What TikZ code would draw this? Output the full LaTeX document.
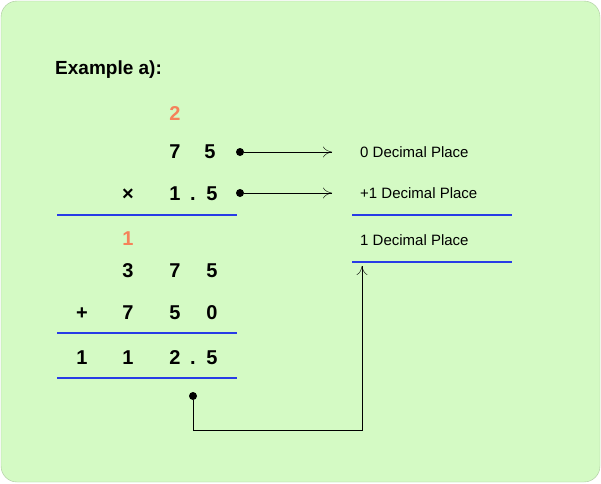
\documentclass[tikz,border=0pt]{standalone}
\usepackage{fontspec}
\setmainfont{Liberation Sans}
\usetikzlibrary{positioning, arrows.meta}
\definecolor{bggreen}{RGB}{212,250,196}
\definecolor{myblue}{RGB}{40,60,230}
\definecolor{myorange}{RGB}{245,130,90}
\tikzset{
  digit/.style={font=\bfseries\fontsize{20}{24}\selectfont, inner sep=0, anchor=base, yshift=-7.5},
  carry/.style={digit, text=myorange},
  label/.style={font=\fontsize{15}{18}\selectfont, anchor=west, inner sep=0},
  sumline/.style={myblue, line width=1.4},
  dot/.style={circle, fill=black, inner sep=0, minimum size=8}
}

\begin{document}
\begin{tikzpicture}[x=1pt,y=-1pt,>={To[length=9pt,width=11pt]}]
\useasboundingbox (0,0) rectangle (601,483);
\draw[fill=bggreen, draw=bggreen!80!black, rounded corners=16, line width=0.4] (1,1) rectangle (600,482);

\node [font=\bfseries\fontsize{19}{22}\selectfont, anchor=west, inner sep=0] (title) at (55,70) {Example a):};

% multiplication
\node [carry] (c2) at (175,113) {2};
\node [digit] (a7) at (175,151) {7};
\node [digit] (a5) at (210,151) {5};
\node [digit] (times) at (128,193) {×};
\node [digit] (b1) at (175,193) {1};
\node [digit] (bdot) at (193,193) {.};
\node [digit] (b5) at (212,193) {5};
\coordinate (l1a) at (57,215); \coordinate (l1b) at (237,215);
\draw[sumline] (l1a) -- (l1b);

% partial products
\node [carry] (c1) at (128,238) {1};
\node [digit] (p3) at (128,270) {3};
\node [digit] (p7) at (175,270) {7};
\node [digit] (p5) at (212,270) {5};
\node [digit] (plus) at (82,312) {+};
\node [digit] (q7) at (128,312) {7};
\node [digit] (q5) at (175,312) {5};
\node [digit] (q0) at (212,312) {0};
\coordinate (l2a) at (57,333); \coordinate (l2b) at (237,333);
\draw[sumline] (l2a) -- (l2b);
\node [digit] (r1) at (82,357) {1};
\node [digit] (r2) at (128,357) {1};
\node [digit] (r3) at (175,357) {2};
\node [digit] (rdot) at (193,357) {.};
\node [digit] (r5) at (212,357) {5};
\coordinate (l3a) at (57,378); \coordinate (l3b) at (237,378);
\draw[sumline] (l3a) -- (l3b);

% decimal places
\node [dot] (d1) at (240,152) {};
\node [dot] (d2) at (240,193) {};
\node [label] (t1) at (360,152) {0 Decimal Place};
\node [label] (t2) at (360,193) {+1 Decimal Place};
\coordinate (e1) at (332,152); \coordinate (e2) at (332,193);
\draw[->] (d1) -- (e1);
\draw[->] (d2) -- (e2);
\coordinate (l4a) at (352,215); \coordinate (l4b) at (512,215);
\draw[sumline] (l4a) -- (l4b);
\node [label] (t3) at (360,240) {1 Decimal Place};
\coordinate (l5a) at (352,262); \coordinate (l5b) at (512,262);
\draw[sumline] (l5a) -- (l5b);

\node [dot] (d3) at (193,396) {};
\coordinate (corner) at (362,430);
\coordinate (tip) at (362,266);
\draw[->] (d3) |- (corner) -- (tip);
\end{tikzpicture}
\end{document}
